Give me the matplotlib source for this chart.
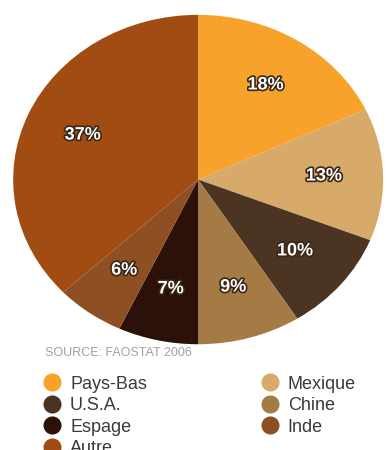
import matplotlib
matplotlib.use("Agg")
import matplotlib.pyplot as plt
import matplotlib.patheffects as pe
from matplotlib.lines import Line2D

# parts de production (%), dans le sens horaire depuis le haut
pays = ["Pays-Bas", "Mexique", "U.S.A.", "Chine", "Espage", "Inde", "Autre"]
parts = [18, 13, 10, 9, 7, 6, 37]
couleurs = ["#F7A22B", "#D8AA69", "#4B3421", "#A47A45", "#2B1107", "#8E4F22", "#A04C12"]

# ordre de la légende (deux colonnes)
ordre_legende = ["Pays-Bas", "U.S.A.", "Espage", "Autre", "Mexique", "Chine", "Inde"]

source = "SOURCE: FAOSTAT 2006"

plt.rcParams["font.family"] = ["Liberation Sans", "DejaVu Sans"]

fig = plt.figure(figsize=(3.87, 4.5), dpi=100)
ax = fig.add_axes([0.034, 0.235, 0.956, 0.732])

wedges, textes, pcts = ax.pie(
    parts,
    colors=couleurs,
    startangle=90,
    counterclock=False,
    autopct=lambda p: f"{p:.0f}%",
    pctdistance=0.68,
    wedgeprops=dict(linewidth=0),
    textprops=dict(color="white", fontsize=13, fontweight="bold"),
)
for t in pcts:
    t.set_path_effects([pe.withStroke(linewidth=2.4, foreground="#3b2716")])

ax.set_aspect("auto")
ax.set_xlim(-1, 1)
ax.set_ylim(-1, 1)
ax.axis("off")

fig.text(0.115, 0.215, source, color="#a0a0a0", fontsize=9, va="center", ha="left")

handles = []
for nom in ordre_legende:
    c = couleurs[pays.index(nom)]
    handles.append(Line2D([], [], marker="o", linestyle="none", markersize=12,
                          markerfacecolor=c, markeredgecolor=c, label=nom))

fig.legend(
    handles=handles,
    loc="upper left",
    bbox_to_anchor=(0.111, 0.165),
    ncol=2,
    frameon=False,
    fontsize=13,
    labelcolor="#3a3a3a",
    handlelength=1.0,
    handletextpad=0.5,
    columnspacing=6.3,
    labelspacing=0.25,
    borderpad=0,
    borderaxespad=0,
)

fig.savefig("out.png", dpi=100)
